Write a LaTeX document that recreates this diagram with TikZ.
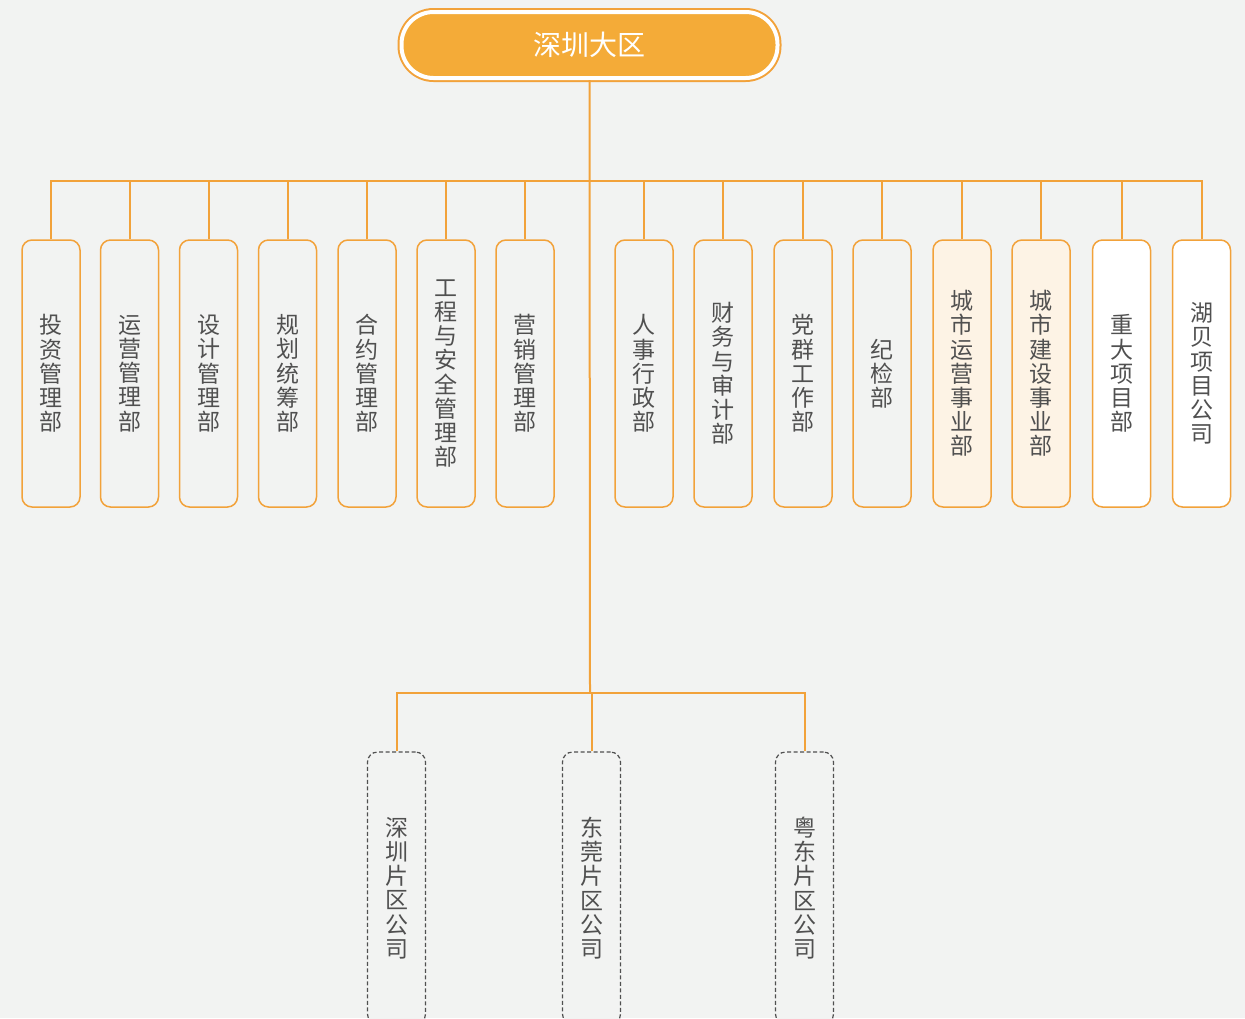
\documentclass[tikz,border=0pt]{standalone}
\usepackage{fontspec}
\newfontfamily\cjk{Noto Sans CJK SC}
\definecolor{bggray}{HTML}{F2F3F2}
\definecolor{lineorange}{HTML}{F2A23A}
\definecolor{headorange}{HTML}{F4AB38}
\definecolor{cream}{HTML}{FDF3E5}
\definecolor{textgray}{HTML}{505050}

\begin{document}
\begin{tikzpicture}[x=1pt,y=-1pt,
  every node/.style = {font=\cjk, text=textgray,
    align=center, inner sep=0pt},
  region/.style = {fill=headorange, draw=white, line width=4pt,
    preaction={draw=lineorange, line width=8pt},
    rounded corners=32pt, minimum width=376pt, minimum height=66pt,
    text=white, font=\cjk\fontsize{28}{30}\selectfont},
  dept/.style = {draw=lineorange, line width=1.5pt, fill=bggray,
    rounded corners=10pt, minimum width=58pt, minimum height=267pt,
    font=\cjk\fontsize{23}{24.2}\selectfont},
  biz/.style  = {dept, fill=cream},
  proj/.style = {dept, fill=white},
  branch/.style = {dept, draw=textgray, line width=1.2pt,
    dash pattern=on 4pt off 2.5pt, minimum height=272pt},
  link/.style = {draw=lineorange, line width=2pt}]
\path[use as bounding box, fill=bggray] (0,0) rectangle (1245,1018);

\node[region] (region) at (589.5,45) {深圳大区};

% departments
\foreach \x/\lbl/\sty [count=\i] in {
  51/{投\\资\\管\\理\\部}/dept,
  129.5/{运\\营\\管\\理\\部}/dept,
  208.5/{设\\计\\管\\理\\部}/dept,
  287.5/{规\\划\\统\\筹\\部}/dept,
  367/{合\\约\\管\\理\\部}/dept,
  446/{工\\程\\与\\安\\全\\管\\理\\部}/dept,
  525/{营\\销\\管\\理\\部}/dept,
  644/{人\\事\\行\\政\\部}/dept,
  723/{财\\务\\与\\审\\计\\部}/dept,
  803/{党\\群\\工\\作\\部}/dept,
  882/{纪\\检\\部}/dept,
  962/{城\\市\\运\\营\\事\\业\\部}/biz,
  1041/{城\\市\\建\\设\\事\\业\\部}/biz,
  1121.5/{重\\大\\项\\目\\部}/proj,
  1201.5/{湖\\贝\\项\\目\\公\\司}/proj}
  \node[\sty] (d\i) at (\x,373.5) {\lbl};

% branch companies
\foreach \x/\lbl [count=\i] in {
  396.5/{深\\圳\\片\\区\\公\\司},
  591.5/{东\\莞\\片\\区\\公\\司},
  804.5/{粤\\东\\片\\区\\公\\司}}
  \node[branch] (b\i) at (\x,888) {\lbl};

\coordinate (bus) at (590,181);
\coordinate (sub) at (590,693);
\draw[link] (region.south) -- (sub);
\foreach \i in {1,...,15}
  \draw[link] (d\i.north) |- (bus);
\foreach \i in {1,2,3}
  \draw[link] (b\i.north) |- (sub);
\end{tikzpicture}
\end{document}
